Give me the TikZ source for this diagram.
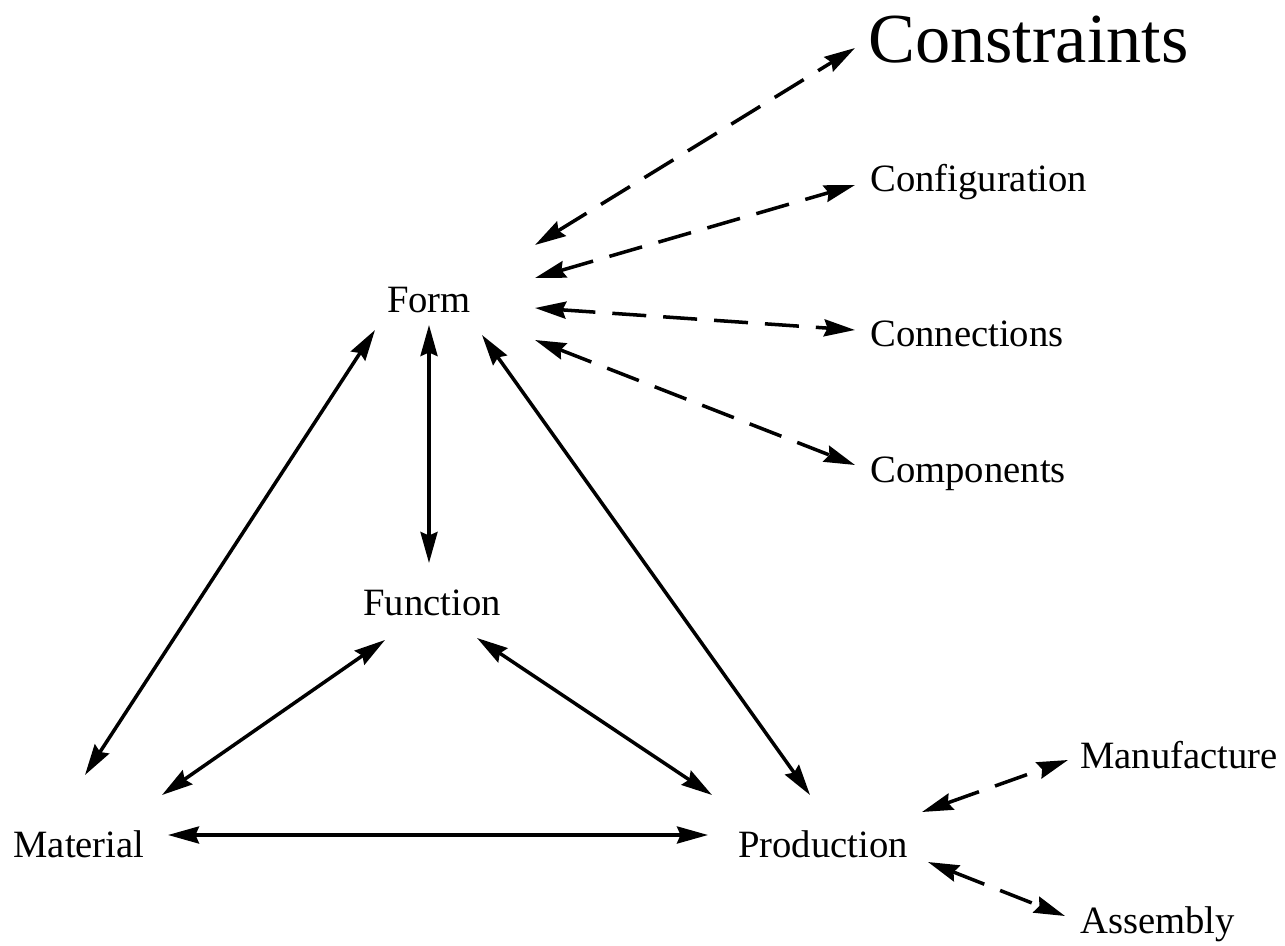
\documentclass[tikz,border=0pt]{standalone}
\usepackage{fontspec}
\setmainfont{Liberation Serif}
\usetikzlibrary{arrows.meta,positioning}
\tikzstyle{lbl} = [inner sep=0pt, font=\fontsize{22}{26}\selectfont]
\tikzstyle{biglbl} = [inner sep=0pt, font=\fontsize{40}{46}\selectfont]
\tikzstyle{link} = [line width=2pt, {Stealth[length=0.62cm,width=0.34cm,inset=0.07cm]}-{Stealth[length=0.62cm,width=0.34cm,inset=0.07cm]}]
\tikzstyle{dlink} = [link, dash pattern=on 0.68cm off 0.34cm]

\begin{document}
\begin{tikzpicture}
\useasboundingbox (0,0) rectangle (25.7,18.9);
% labels
\node (form) [lbl, anchor=base] at (8.58,12.64) {Form};
\node (function) [lbl, anchor=base] at (8.64,6.60) {Function};
\node (material) [lbl, anchor=base] at (1.58,1.76) {Material};
\node (production) [lbl, anchor=base] at (16.46,1.76) {Production};
\node (constraints) [biglbl, anchor=base west] at (17.36,17.64) {Constraints};
\node (configuration) [lbl, anchor=base west] at (17.40,15.06) {Configuration};
\node (connections) [lbl, anchor=base west] at (17.40,11.96) {Connections};
\node (components) [lbl, anchor=base west] at (17.40,9.26) {Components};
\node (manufacture) [lbl, anchor=base west] at (21.60,3.54) {Manufacture};
\node (assembly) [lbl, anchor=base west] at (21.60,0.24) {Assembly};
% triangle
\draw[link] ([shift={(-1.08,-0.34)}]form.base)--([shift={(0.12,1.64)}]material.base);
\draw[link] ([shift={(0,-0.24)}]form.base)--([shift={(-0.06,1.04)}]function.base);
\draw[link] ([shift={(1.06,-0.44)}]form.base)--([shift={(-0.26,1.24)}]production.base);
\draw[link] ([shift={(-0.94,-0.50)}]function.base)--([shift={(1.66,1.24)}]material.base);
\draw[link] ([shift={(0.90,-0.46)}]function.base)--([shift={(-2.22,1.24)}]production.base);
\draw[link] ([shift={(1.78,0.44)}]material.base)--([shift={(-2.30,0.44)}]production.base);
% form fan
\draw[dlink] ([shift={(2.12,1.36)}]form.base)--([shift={(-0.26,0.30)}]constraints.base west);
\draw[dlink] ([shift={(2.12,0.70)}]form.base)--([shift={(-0.30,0.14)}]configuration.base west);
\draw[dlink] ([shift={(2.12,0.10)}]form.base)--([shift={(-0.30,0.34)}]connections.base west);
\draw[dlink] ([shift={(2.12,-0.54)}]form.base)--([shift={(-0.30,0.34)}]components.base west);
% production fan
\draw[dlink] ([shift={(1.98,0.90)}]production.base)--([shift={(-0.24,0.16)}]manufacture.base west);
\draw[dlink] ([shift={(2.10,-0.10)}]production.base)--([shift={(-0.30,0.34)}]assembly.base west);
\end{tikzpicture}
\end{document}
